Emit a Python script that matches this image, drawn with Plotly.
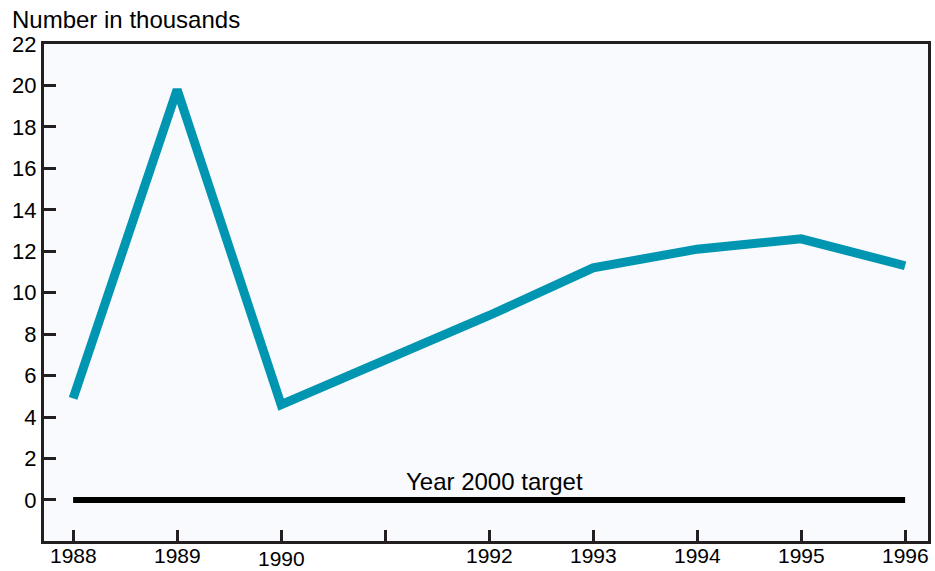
import plotly.graph_objects as go

years = [1988, 1989, 1990, 1992, 1993, 1994, 1995, 1996]
values = [4.9, 19.8, 4.6, 8.9, 11.2, 12.1, 12.6, 11.3]
target_years = [1988, 1996]
target_values = [0, 0]
x_tick_vals = [1988, 1989, 1990, 1991, 1992, 1993, 1994, 1995, 1996]
x_label_years = [1988, 1989, 1990, 1992, 1993, 1994, 1995, 1996]
y_tick_vals = list(range(0, 23, 2))

FONT = "Liberation Sans, Arial, sans-serif"
INK = "#231F20"

fig = go.Figure()
fig.add_trace(go.Scatter(x=target_years, y=target_values, mode="lines",
                         line=dict(color="#000000", width=6), hoverinfo="skip"))
fig.add_trace(go.Scatter(x=years, y=values, mode="lines",
                         line=dict(color="#0095B0", width=9)))

annotations = [
    dict(text="Number in thousands", x=0, y=1, xref="paper", yref="paper",
         xshift=-34, yshift=9, xanchor="left", yanchor="bottom",
         showarrow=False, font=dict(size=24, color="#000000", family=FONT)),
    dict(text="Year 2000 target", x=1992.0, y=0, xref="x", yref="y",
         xshift=5, yshift=3, xanchor="center", yanchor="bottom",
         showarrow=False, font=dict(size=24, color="#000000", family=FONT)),
]
for yr in x_label_years:
    annotations.append(dict(text=str(yr), x=yr, y=0, xref="x", yref="paper",
                            yshift=-5 if yr == 1990 else -2, borderpad=0,
                            xanchor="center", yanchor="top", showarrow=False,
                            font=dict(size=21, color="#000000", family=FONT)))

fig.update_layout(
    width=935, height=571,
    margin=dict(l=44, r=7, t=44, b=30),
    paper_bgcolor="#FFFFFF",
    plot_bgcolor="#F8FAFD",
    showlegend=False,
    font=dict(family=FONT, size=22, color="#000000"),
    annotations=annotations,
    xaxis=dict(range=[1987.72, 1996.22], tickvals=x_tick_vals,
               ticktext=[""] * len(x_tick_vals), ticks="inside", ticklen=11,
               tickwidth=2.5, tickcolor=INK, showgrid=False, zeroline=False,
               showline=True, linecolor=INK, linewidth=3, mirror=True,
               automargin=False),
    yaxis=dict(range=[-1.98, 22], tickvals=y_tick_vals, ticks="inside", ticklen=12,
               tickwidth=2.5, tickcolor=INK, showgrid=False, zeroline=False,
               showline=True, linecolor=INK, linewidth=3, mirror=True,
               automargin=False,
               tickfont=dict(size=22, color="#000000", family=FONT)),
)

fig.write_html("out.html", config={"displayModeBar": False},
               post_script="document.body.style.margin='0px';document.body.style.overflow='hidden';")
